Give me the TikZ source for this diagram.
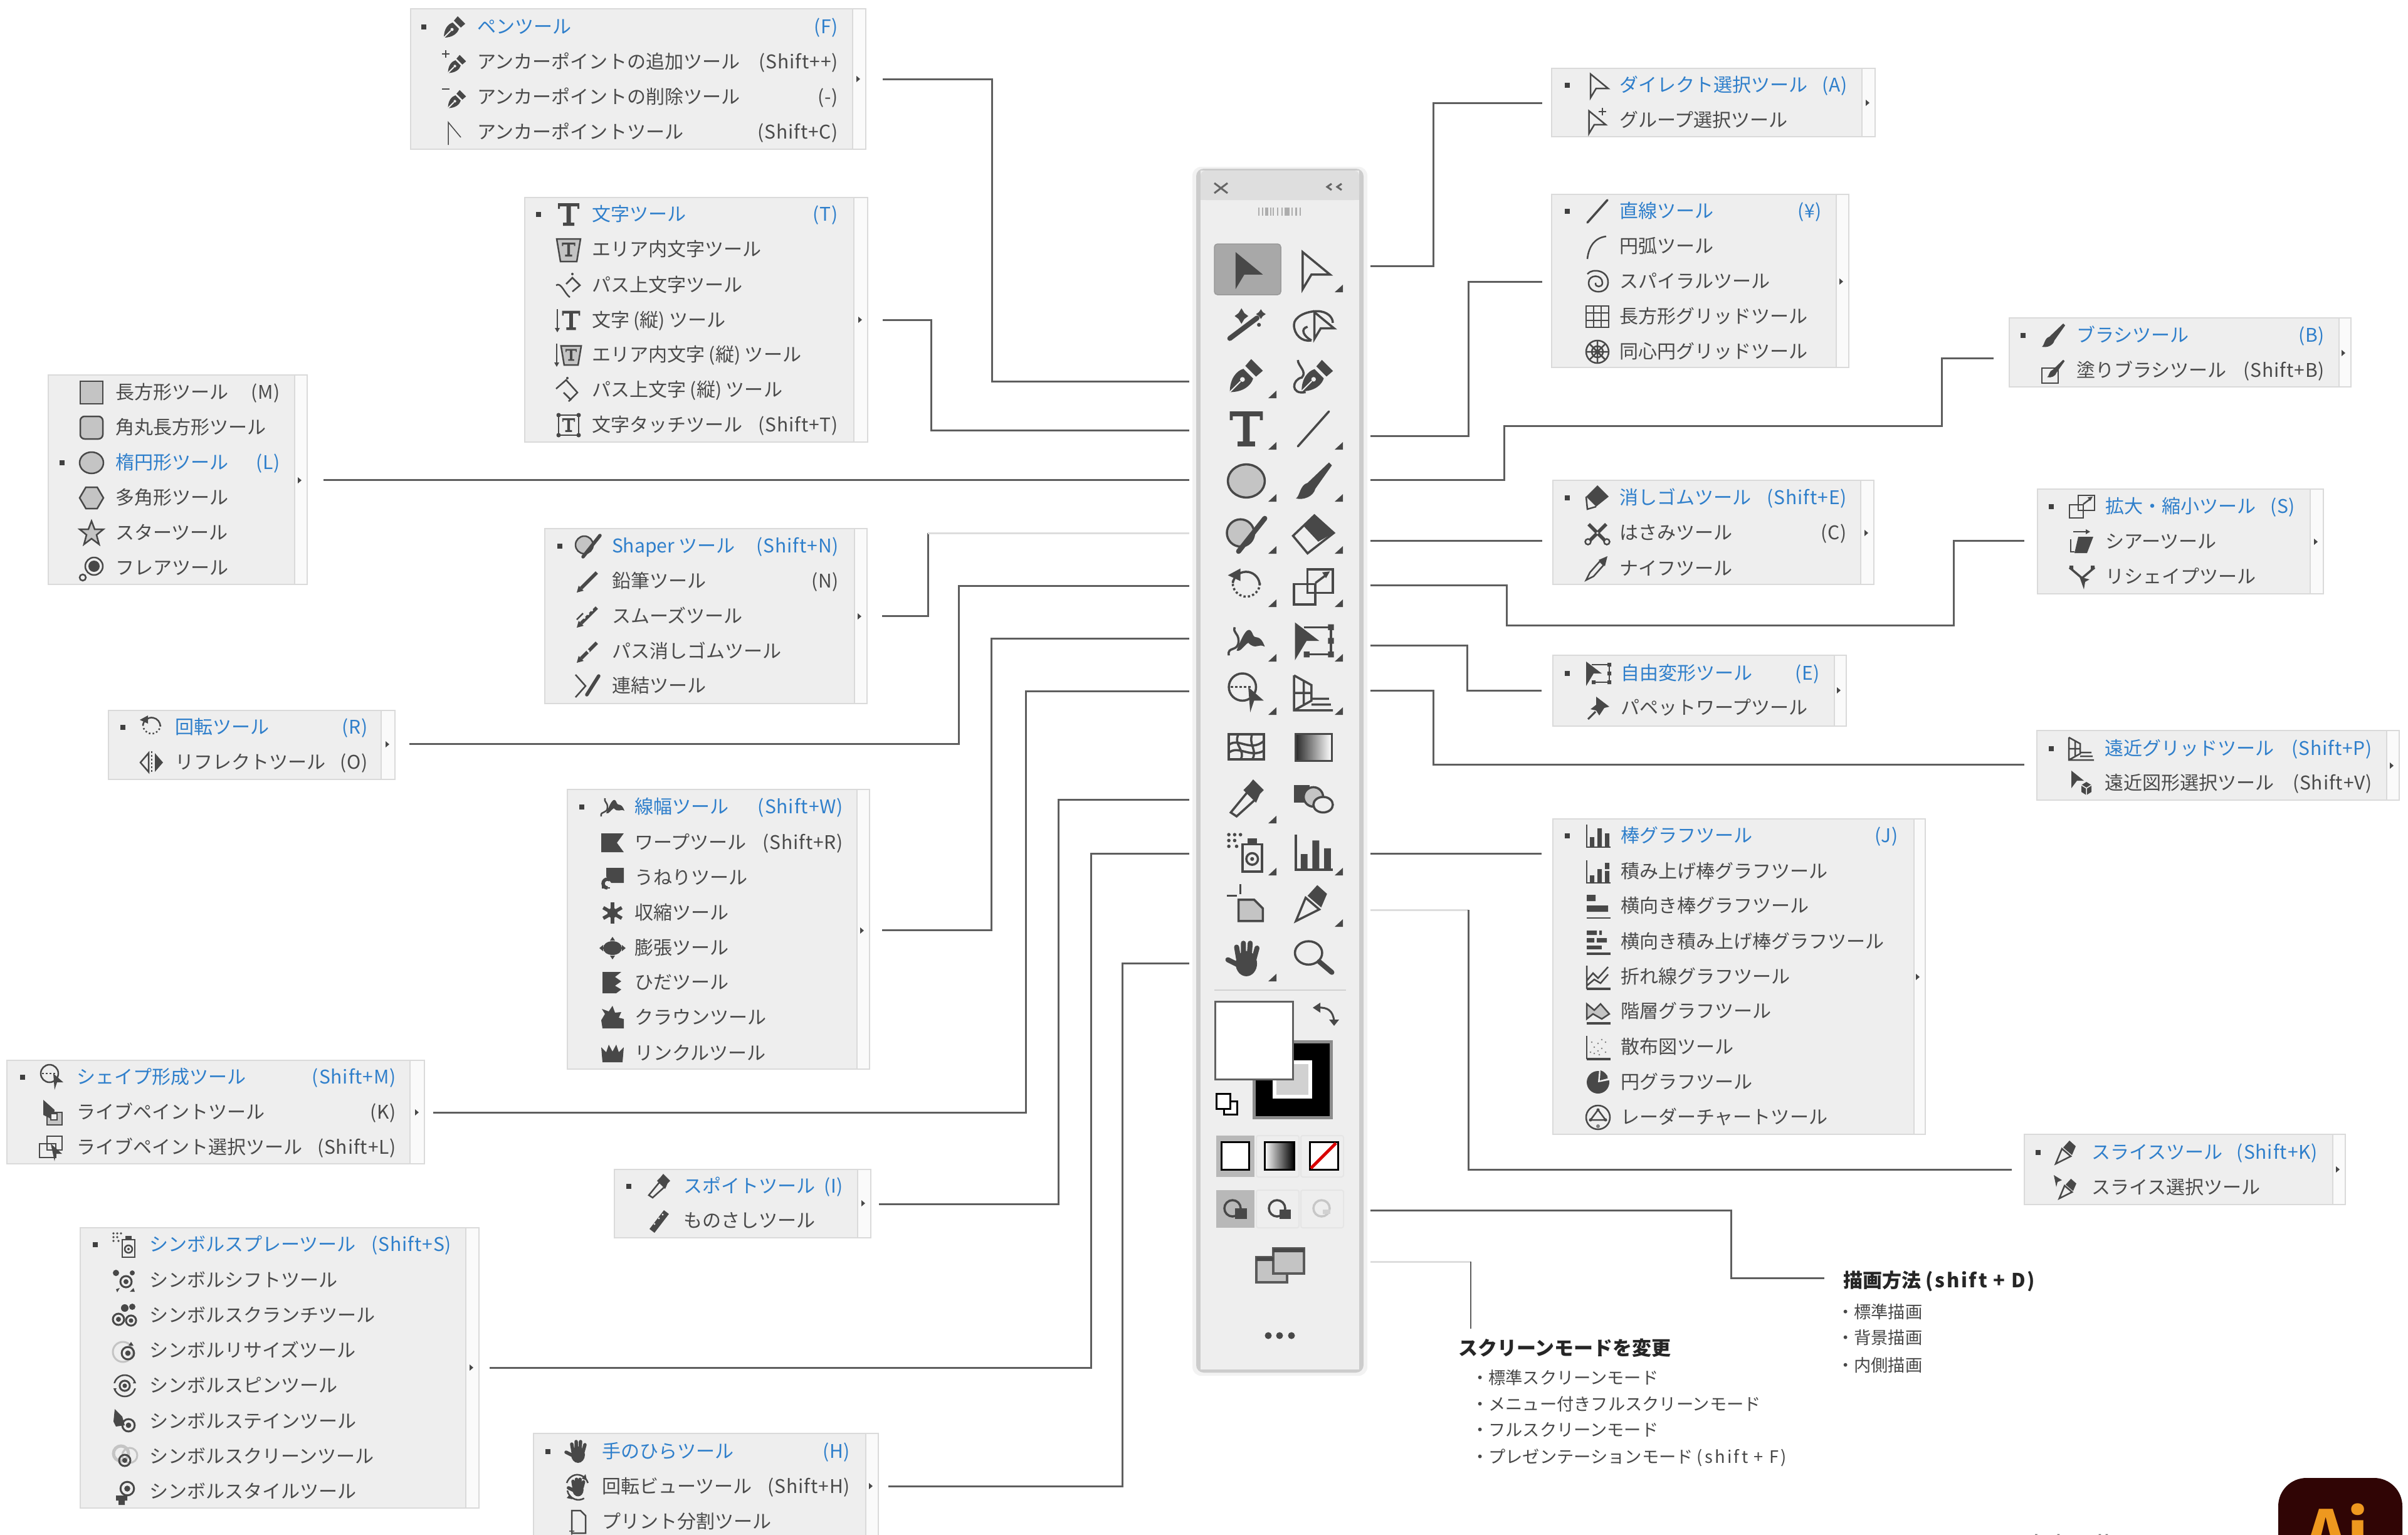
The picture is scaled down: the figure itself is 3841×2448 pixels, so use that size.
\documentclass[tikz,border=0pt]{standalone}
\usepackage{fontspec}
\setmainfont{Noto Sans CJK JP}
\usetikzlibrary{calc}
\definecolor{icd}{HTML}{484848}
\definecolor{icg}{HTML}{C4C4C4}
\definecolor{pbg}{HTML}{EEEEEE}
\definecolor{pbd}{HTML}{DADADA}
\definecolor{strip}{HTML}{FAFAFA}
\definecolor{txtc}{HTML}{4A4A4A}
\definecolor{blu}{HTML}{2F7FCB}
\definecolor{lnc}{HTML}{5E5E5E}
\definecolor{lnl}{HTML}{DDDDDD}
\definecolor{aicol}{HTML}{300505}
\definecolor{aior}{HTML}{EE981F}
\newcommand\ptfont{\fontsize{8.54pt}{10pt}\selectfont}
\newcommand\hdfont{\fontsize{8.82pt}{11pt}\selectfont\bfseries}
\newcommand\smfont{\fontsize{7.75pt}{10pt}\selectfont}
\def\icw{0.025cm}\def\ict{0.055cm}
\tikzset{
 icl/.style={draw=icd,line width=\icw},
 ict/.style={draw=icd,line width=\ict,line cap=round},
 pnl/.style={draw=pbd,line width=0.025cm,fill=pbg,inner sep=0,outer sep=0},
 ptxt/.style={inner sep=0,outer sep=0,font=\ptfont,text=txtc},
 phd/.style={ptxt,text=blu},
 conn/.style={draw=lnc,line width=0.03cm},
 connl/.style={draw=lnl,line width=0.03cm},
 nhd/.style={inner sep=0,outer sep=0,font=\hdfont,text=black!85,anchor=base west},
 nsm/.style={inner sep=0,outer sep=0,font=\smfont,text=black!72,anchor=base west},
}
\newcommand\sub[4]{\begin{scope}[shift={(#1,#2)},scale=#3]#4\end{scope}}
\newcommand\ico[4]{\begin{scope}[shift={(#1,#2)},scale=#3]#4\end{scope}}
% ---- icons
\newcommand\iPen{\fill[icd] (-17,17) .. controls (-17,3) and (-10,-5) .. (-3,-7) -- (7,3) .. controls (5,10) and (-3,17) .. (-17,17) -- cycle; \fill[icd] (-1,-10) -- (5,-17) -- (17,-5) -- (10,1) -- cycle; \draw[pbg,line width=.02cm] (-17,17) -- (-6,6); \fill[pbg] (-4,4) circle (2.5);}
\newcommand\iPenP{\sub{4}{3}{.85}{\iPen}\draw[icl] (-20,-13)--(-8,-13) (-14,-19)--(-14,-7);}
\newcommand\iPenM{\sub{4}{3}{.85}{\iPen}\draw[icl] (-20,-13)--(-8,-13);}
\newcommand\iAnchor{\draw[icl,line width=.015cm] (-10,20)--(-10,-16)--(10,8);}
\newcommand\iTg{\fill[icd] (-17,-18) rectangle (17,-13) (-3.5,-13) rectangle (3.5,14) (-9,13) rectangle (9,18) (-17,-18) rectangle (-14,-9) (14,-18) rectangle (17,-9);}
\newcommand\iAT{\draw[icl,fill=icg] (-19,-17) -- (19,-17) -- (13,19) -- (-13,19) -- cycle; \sub{0}{0}{.62}{\iTg}}
\newcommand\iPT{\draw[icl] (-20,0) .. controls (-12,-6) and (-6,14) .. (2,19); \draw[icl] (-4,-2)--(6,-12)--(18,0)--(6,10); \fill[icd] (6,-18) circle (2);}
\newcommand\iVT{\sub{4}{0}{.85}{\iTg}\draw[icl] (-18,-18)--(-18,16); \fill[icd] (-22,12)--(-14,12)--(-18,19)--cycle;}
\newcommand\iVAT{\sub{4}{0}{.85}{\iAT}\draw[icl] (-19,-18)--(-19,16); \fill[icd] (-23,12)--(-15,12)--(-19,19)--cycle;}
\newcommand\iVPT{\draw[icl] (-20,-2)--(-4,-16)--(14,4)--(0,18); \draw[icl] (-8,4)--(4,16); \fill[icd] (-2,-19) circle (2);}
\newcommand\iTT{\draw[icl] (-16,-16) rectangle (16,16); \foreach \a/\b in {-16/-16,16/-16,-16/16,16/16}{\fill[icd] (\a,\b) circle (3.5);} \sub{0}{0}{.6}{\iTg}}
\newcommand\iRc{\draw[icl,fill=icg] (-18,-18) rectangle (18,18);}
\newcommand\iRR{\draw[icl,fill=icg,rounded corners=.07cm] (-18,-18) rectangle (18,18);}
\newcommand\iEl{\draw[icl,fill=icg] (0,0) ellipse (19 and 17);}
\newcommand\iHex{\draw[icl,fill=icg] (-19,0)--(-9,-17)--(9,-17)--(19,0)--(9,17)--(-9,17)--cycle;}
\newcommand\iStr{\draw[icl,fill=icg] (0,-19)--(5,-6)--(19,-6)--(8,3)--(12,18)--(0,9)--(-12,18)--(-8,3)--(-19,-6)--(-5,-6)--cycle;}
\newcommand\iFl{\fill[icd] (4,-3) circle (9); \draw[icl] (4,-3) circle (14); \draw[icl,fill=pbg] (-14,15) circle (5);}
\newcommand\iShaper{\draw[icl,fill=icg] (-6,-2) circle (14); \draw[ict] (-8,17)--(19,-17);}
\newcommand\iPcl{\draw[icd,line width=\ict] (-11,11)--(14,-14); \fill[icd] (-18,18)--(-15,7)--(-7,15)--cycle;}
\newcommand\iSm{\iPcl\fill[pbg] (-6,2) circle (2) (0,-4) circle (2) (6,-10) circle (2);\draw[icl] (-18,5)--(-8,-5);}
\newcommand\iPE{\iPcl\draw[pbg,line width=.02cm] (-2,-2)--(5,5) (-6,-8)--(2,0);}
\newcommand\iJo{\draw[icl] (-20,-18)--(-4,0)--(-20,18); \draw[ict] (-2,14)--(17,-16);}
\newcommand\iRot{\draw[icl] (-14,-4) arc (190:360:14); \draw[icl,densely dotted] (14,-4) arc (0:190:14); \fill[icd] (-19,-12)--(-6,-19)--(-6,-6)--cycle;}
\newcommand\iRef{\draw[icl] (-5,-15)--(-18,0)--(-5,15)--cycle; \fill[icd] (5,-15)--(18,0)--(5,15)--cycle; \draw[icl,densely dotted] (0,-18)--(0,18);}
\newcommand\iWd{\draw[icl] (-18,15) .. controls (-20,5) and (-8,12) .. (-8,0) .. controls (-8,-8) and (-14,-8) .. (-12,-14); \fill[icd] (-10,10) .. controls (0,-16) and (4,-14) .. (7,-6) .. controls (9,-1) and (14,-8) .. (19,6) .. controls (12,2) and (10,10) .. (2,2) .. controls (-2,4) and (-6,12) .. (-10,10) -- cycle;}
\newcommand\iWp{\fill[icd] (-18,-15)--(18,-15)--(7,0)--(18,15)--(-18,15)--cycle;}
\newcommand\iTw{\fill[icd] (-10,-16)--(18,-16)--(18,8)--(-2,8)--(-10,-2)--cycle; \draw[icd,line width=\ict] (-8,16) arc (90:300:7) ;\draw[icl] (-16,8)--(-16,16)--(-4,16);}
\newcommand\iPk{\foreach \a in {0,60,...,300}{\draw[icd,line width=\ict,rotate=\a] (0,0)--(0,-17);}\fill[icd] (0,0) circle (8);\foreach \a in {30,150,210,330}{\fill[pbg,rotate=\a] (0,-16) circle (3);}}
\newcommand\iBl{\fill[icd] (0,0) ellipse (15 and 11); \fill[icd] (-21,0)--(-15,-5)--(-15,5)--cycle (21,0)--(15,-5)--(15,5)--cycle (0,-18)--(-4,-12)--(4,-12)--cycle (0,18)--(-4,12)--(4,12)--cycle;}
\newcommand\iSc{\fill[icd] (-16,-17)--(14,-17)--(4,-9)--(14,-2)--(4,5)--(14,11)--(6,17)--(-16,17)--cycle;}
\newcommand\iCr{\fill[icd] (-12,-6)--(-17,-14)--(-6,-10)--(0,-19)--(4,-8)--(14,-9)--(10,0)--(18,2)--(18,17)--(-16,17)--(-18,4)--cycle;}
\newcommand\iWr{\fill[icd] (-18,-10)--(-10,-2)--(-6,-14)--(0,-3)--(6,-14)--(10,-2)--(18,-10)--(16,14)--(-16,14)--cycle;}
\newcommand\iSB{\draw[icl] (-4,-6) circle (14); \draw[icl,densely dotted] (-16,-6)--(6,-6); \fill[icd] (2,-6)--(18,8)--(8,8)--(4,20)--cycle;}
\newcommand\iLP{\draw[icl,fill=icg] (-8,0) rectangle (16,20); \fill[icd] (-14,-20)--(4,-4)--(2,12)--(-14,4)--cycle;\draw[icl,fill=pbg] (-2,2) rectangle (8,12);}
\newcommand\iLS{\draw[icl] (-20,-6) rectangle (6,16); \draw[icl] (-8,-18) rectangle (16,4); \fill[icd] (-2,-6)--(16,10)--(6,10)--(4,22)--cycle;}
\newcommand\iDr{\draw[icl,fill=pbg] (-16,14)--(2,-8)--(10,0)--(-10,18)--cycle; \fill[icd] (-3,-9)--(3,-15)--(7,-20)--(18,-9)--(14,-5)--(10,4)--cycle;}
\newcommand\iRu{\draw[icd,line width=.10cm] (-11,16)--(12,-14); \fill[pbg] (-7,5) circle (1.6) (0,-4) circle (1.6) (6,-10) circle (1.6);}
\newcommand\iSpr{\draw[icl,fill=pbg] (-4,-8) rectangle (16,20); \fill[icd] (1,-14) rectangle (11,-8); \draw[icl] (6,7) circle (6); \fill[icd] (6,7) circle (2); \foreach \a/\b in {-18/-18,-12/-18,-6/-18,-18/-12,-12/-12,-18/-6,-10/-6}{\fill[icd] (\a,\b) circle (1.8);}}
\newcommand\iRg{\draw[icl,line width=.03cm] (0,0) circle (9); \fill[icd] (0,0) circle (4);}
\newcommand\iSh{\sub{2}{2}{1}{\iRg}\fill[icd] (-14,-12) circle (5) (12,-12) circle (4) (-14,14)--(-8,12)--(-12,19)--cycle (14,12)--(8,18)--(16,18)--cycle;}
\newcommand\iCh{\sub{-10}{6}{1}{\iRg}\sub{10}{8}{.9}{\iRg}\fill[icd] (0,-12) circle (6) (12,-14) circle (5);}
\newcommand\iSz{\draw[icg,line width=.03cm] (-3,2) circle (16); \sub{5}{4}{1.1}{\iRg}\fill[icd] (10,-14)--(6,-8)--(14,-8)--cycle;}
\newcommand\iSp{\draw[icl] (0,0) circle (17); \sub{0}{0}{.9}{\iRg}\fill[pbg] (-19,-4) rectangle (-14,4) (14,-4) rectangle (19,4); \fill[icd] (-18,4)--(-13,4)--(-16,9)--cycle (18,-4)--(13,-4)--(16,-9)--cycle;}
\newcommand\iSt{\fill[icd] (-16,-20)--(-4,-8)--(0,6)--(-14,8)--(-18,0)--cycle; \sub{6}{6}{1.1}{\iRg}}
\newcommand\iScr{\draw[icg,line width=.05cm,fill=pbg] (-6,-5) circle (12); \draw[icg,line width=.03cm] (8,-2) circle (12); \sub{0}{6}{1}{\iRg}}
\newcommand\iSty{\sub{4}{-5}{1.2}{\iRg}\fill[icd] (-14,6) rectangle (4,14) (-10,14) rectangle (0,21);}
\newcommand\iHd{\fill[icd] (0,5) ellipse (11 and 13); \draw[ict] (-8,0)--(-10,-12) (-3,-2)--(-3,-16) (3,-2)--(4,-16) (8,0)--(11,-11) (-9,6)--(-19,1);}
\newcommand\iRV{\sub{0}{1}{.8}{\iHd}\draw[icl] (-18,-6) arc (200:340:18 and 20) ; \draw[icl] (-17,6) arc (170:60:18); \fill[icd] (12,-20)--(6,-13)--(14,-10)--cycle (-18,18)--(-13,12)--(-9,20)--cycle;}
\newcommand\iTl{\draw[icl] (-10,-18)--(4,-18)--(12,-10)--(12,18)--(-10,18)--cycle; \fill[icd] (-14,14) rectangle (-6,15.5) (-10.7,10) rectangle (-9.3,21);}
\newcommand\iArw{\fill[icd] (-11,-18)--(17,5)--(-2,5)--(-11,20)--cycle;}
\newcommand\iDir{\draw[icl,fill=pbg] (-11,-18)--(17,5)--(-2,5)--(-11,20)--cycle;}
\newcommand\iGp{\sub{-3}{2}{.95}{\iDir}\draw[icl] (8,-20)--(8,-8) (2,-14)--(14,-14);}
\newcommand\iLn{\draw[icd,line width=.035cm,line cap=round] (-16,18)--(16,-18);}
\newcommand\iAr{\draw[icl] (-16,20) .. controls (-14,0) and (-4,-14) .. (14,-16);}
\newcommand\iSpi{\draw[icl] (-16,-12) .. controls (-8,-22) and (18,-18) .. (17,2) .. controls (16,22) and (-14,20) .. (-14,2) .. controls (-14,-12) and (8,-12) .. (8,2) .. controls (8,10) and (-4,10) .. (-3,2);}
\newcommand\iGr{\draw[icl] (-18,-17) rectangle (18,17) (-18,-6)--(18,-6) (-18,6)--(18,6) (-6,-17)--(-6,17) (6,-17)--(6,17);}
\newcommand\iPo{\draw[icl] (0,0) circle (18); \draw[icl] (0,0) circle (9) (-18,0)--(18,0) (0,-18)--(0,18) (-13,-13)--(13,13) (-13,13)--(13,-13);}
\newcommand\iBr{\fill[icd] (-18,18) .. controls (-14,16) and (-14,4) .. (-6,2) -- (16,-19) -- (19,-16) -- (2,8) .. controls (0,16) and (-10,20) .. (-18,18) -- cycle;}
\newcommand\iBb{\draw[icl,fill=pbg] (-18,-4) rectangle (8,20); \sub{4}{-3}{.75}{\iBr}}
\newcommand\iEr{\draw[icl,fill=pbg] (-21,1)--(1,-20)--(21,-2)--(-6,19)--cycle; \fill[icd] (-10,-9)--(1,-20)--(21,-2)--(5,7)--cycle;}
\newcommand\iErB{\fill[icd] (0,-20)--(18,-2)--(-2,14)--(-18,-2)--cycle; \draw[icl] (-18,-2)--(-16,18)--(-2,14);}
\newcommand\iSci{\draw[icd,line width=\ict] (-14,-14)--(14,14) (14,-14)--(-14,14); \fill[pbg] (0,0) circle (1.8); \draw[icl,fill=pbg] (-15,14) circle (4.5) (15,14) circle (4.5);}
\newcommand\iKn{\draw[icl,fill=pbg] (-18,18)--(-12,6)--(4,-12)--(10,-6)--(-6,12)--cycle; \fill[icd] (2,-14)--(16,-20)--(12,-4)--cycle;}
\newcommand\iSca{\draw[icl] (-20,-3) rectangle (2,18); \draw[icl] (-6,-18) rectangle (20,6); \draw[icl] (2,-4)--(14,-13); \fill[icd] (9,-15)--(17,-16)--(13,-9)--cycle;}
\newcommand\iShr{\fill[icd] (-12,18)--(-6,-8)--(18,-8)--(8,18)--cycle; \draw[icl] (-18,-4)--(-18,16)--(-12,16);\draw[icl] (-14,-16)--(6,-16);\fill[icd] (6,-20)--(13,-16)--(6,-12)--cycle;}
\newcommand\iRsh{\draw[icl,line width=.035cm] (-20,-15) -- (0,2) -- (20,-15); \fill[icd] (-4,0)--(12,4)--(5,8)--(3,20)--cycle; \fill[icd] (-20,-18) rectangle (-14,-12) (14,-18) rectangle (20,-12);}
\newcommand\iFr{\fill[icd] (-19,-19)--(6,0)--(-7,0)--(-19,20)--cycle; \draw[icl] (-10,-14)--(18,-14)--(18,14)--(-8,14); \fill[icd] (15,-17) rectangle (21,-11) (15,11) rectangle (21,17) (-10,11) rectangle (-4,17) (15,-3) rectangle (21,3);}
\newcommand\iPup{\fill[icd] (-3,-18)--(18,-2)--(10,0)--(2,12)--(-3,4)--(-12,2)--(-3,-5)--cycle; \draw[icl,line width=.03cm] (-4,6)--(-16,18);}
\newcommand\iPer{\draw[icl] (-20,-18)--(-20,18)--(20,18) (-20,-18)--(-2,-8)--(-2,8)--(-20,18) (-20,0)--(-2,0) (-10,-12)--(-10,13) (-2,6)--(16,6) (-2,12)--(18,12);}
\newcommand\iPS{\fill[icd] (-16,-20)--(4,-4)--(-7,-4)--(-16,8)--cycle; \fill[icd] (8,-2)--(16,3)--(16,14)--(8,19)--(0,14)--(0,3)--cycle;\draw[pbg,line width=.015cm] (0,3)--(8,8)--(16,3) (8,8)--(8,19);}
\newcommand\iBa{\draw[icl] (-18,-18)--(-18,18)--(20,18); \fill[icd] (-13,2) rectangle (-6,18) (-1,-12) rectangle (6,18) (11,-4) rectangle (18,18);}
\newcommand\iSk{\draw[icl] (-18,-18)--(-18,18)--(20,18); \fill[icd] (-13,6) rectangle (-6,18) (-1,-4) rectangle (6,18) (11,-14) rectangle (18,-4) (11,-1) rectangle (18,18);}
\newcommand\iHB{\draw[icl] (-18,19)--(20,19); \fill[icd] (-18,-18) rectangle (-4,-8) (-18,-1) rectangle (16,9);}
\newcommand\iHS{\draw[icl,line width=.04cm] (-18,19)--(20,19); \fill[icd] (-18,-18) rectangle (-2,-11) (2,-18) rectangle (6,-11) (-18,-6) rectangle (-6,1) (-2,-6) rectangle (14,1) ;\fill[icd] (-18,6) rectangle (6,12);}
\newcommand\iLG{\draw[icl,line width=.04cm] (-18,19)--(20,19); \draw[icl] (-18,-18)--(-18,19) (-18,6)--(-8,-6)--(0,2)--(16,-16) (-18,14)--(-6,4)--(4,10)--(16,-4);}
\newcommand\iAG{\draw[icl,line width=.04cm] (-18,19)--(20,19); \draw[icl,fill=icg] (-18,-12)--(-6,-2)--(4,-12)--(18,4)--(6,12)--(-8,4)--(-18,12)--cycle;}
\newcommand\iScg{\draw[icl,line width=.04cm] (-18,19)--(20,19); \draw[icl] (-18,-18)--(-18,19); \foreach \a/\b in {-12/8,-6/0,-6/10,0/-6,0/6,6/-12,6/2,12/-8,12/8,-10/-8,2/12}{\fill[icd!70] (\a,\b) circle (1.4);}}
\newcommand\iPi{\fill[icd] (0,0) circle (18); \fill[pbg] (0,0)--(2,-21)--(21,-4)--cycle; \fill[icd] (3,-3)--(4,-19) arc (-75:-10:16) --cycle;}
\newcommand\iRa{\draw[icl] (0,0) circle (19); \draw[icl] (0,-12)--(12,4)--(-12,4)--cycle; \fill[icd] (0,-12) circle (2.5) (12,4) circle (2.5) (-12,4) circle (2.5);\fill[icd!70] (0,14) circle (3);}
\newcommand\iSl{\draw[icl,fill=pbg] (-18,18)--(-8,-6)--(6,6)--cycle; \fill[icd] (-6,-8)--(4,-19)--(14,-10)--(8,4)--cycle;}
\newcommand\iSS{\sub{3}{2}{.85}{\iSl}\fill[icd] (-21,-20)--(-8,-12)--(-15,-9)--(-17,-1)--cycle;}
\newcommand\iWand{\draw[ict] (-17,14)--(11,-7); \fill[icd] (-8,-12)--(-5,-17)--(-2,-12)--(2,-9)--(-2,-6)--(-5,-1)--(-8,-6)--(-12,-9)--cycle; \fill[icd] (13,-13)--(15,-16)--(17,-13)--(20,-11)--(17,-9)--(15,-6)--(13,-9)--(10,-11)--cycle (13,0) circle (2);}
\newcommand\iLas{\draw[icl] (-2,16) .. controls (-12,18) and (-20,10) .. (-20,0) .. controls (-20,-8) and (-8,-14) .. (4,-14) .. controls (14,-14) and (20,-8) .. (20,-2); \draw[icl] (-2,16) .. controls (-10,12) and (-14,4) .. (-6,2); \sub{9}{0}{.72}{\iDir}}
\newcommand\iCurv{\sub{4}{0}{.95}{\iPen}\draw[icl] (-8,17) .. controls (-24,20) and (-22,4) .. (-12,2) .. controls (-6,-4) and (-16,-10) .. (-16,-16);}
\newcommand\iMesh{\draw[icl] (-18,-13) rectangle (18,13); \draw[icl] (-18,-2) .. controls (-8,-10) and (4,6) .. (18,-6) (-18,6) .. controls (-8,-2) and (4,12) .. (18,4) (-8,-13) .. controls (-14,-2) and (0,4) .. (-6,13) (6,-13) .. controls (2,-2) and (12,4) .. (6,13);}
\newcommand\iBlend{\fill[icd] (-20,-14) rectangle (-4,4); \fill[icg,draw=icd,line width=\icw] (0,-2) circle (10); \draw[icl,fill=pbg] (10,6) ellipse (10 and 8);}
\newcommand\iArtb{\draw[icl,fill=icg] (-8,-4)--(8,-4)--(17,5)--(17,18)--(-8,18)--cycle; \draw[icl] (-20,-8)--(-10,-8) (-6,-20)--(-6,-10);}
\newcommand\iZm{\draw[icl] (-5,-6) ellipse (14 and 12); \draw[ict] (6,3)--(19,14);}
% ---- panels
\newcommand\Pnl[7]{%
 \node[pnl,anchor=north west,minimum width={(#4-#2)*0.01cm},minimum height={(#5-#3)*0.01cm}] (#1) at (#2,#3) {};
 \fill[strip] (#6,#3+1) rectangle (#4-1,#5-1);
 \draw[pbd,line width=.012cm] (#6,#3+1)--(#6,#5-1);
 \fill[icd] (#4-15,#7-5)--(#4-9,#7)--(#4-15,#7+5)--cycle;
}
\newcommand\Col[4]{\def\bx{#1}\def\ix{#2}\def\tx{#3}\def\kx{#4}}
\newcount\rowc
\newcommand\Rw[5][ptxt]{%
 \global\advance\rowc by 1
 \ico{\ix}{#2}{1}{#3}
 \node[#1,anchor=base west] (rt\the\rowc) at (\tx,#2+10.5) {#4};
 \if\relax\detokenize{#5}\relax\else
 \node[#1,anchor=base east] (rk\the\rowc) at (\kx,#2+10.5) {\addfontfeature{LetterSpace=3}#5};\fi
}
\newcommand\Hd[4]{\fill[black!75] (\bx-4,#1-4) rectangle (\bx+4,#1+4); \Rw[phd]{#1}{#2}{#3}{#4}}
\newcommand\conn[3]{\coordinate (xb) at (#2,0); \draw[conn] (#1) -- (#1 -| xb) -- (#3 -| xb) -- (#3);}
\newcommand\tri[2]{\fill[icd] (#1+6,#2-6)--(#1+6,#2+6)--(#1-7,#2+6)--cycle;}
\begin{document}
\begin{tikzpicture}[x=0.01cm,y=-0.01cm]
\useasboundingbox (0,0) rectangle (3841,2448);
\fill[white] (0,0) rectangle (3841,2448);
% Panels ---------------------------------------------------
\Pnl{pen}{655}{14}{1381}{238}{1360}{126}
\Col{676}{725}{761}{1337}
\Hd{43}{\iPen}{ペンツール}{(F)}
\Rw{99}{\iPenP}{アンカーポイントの追加ツール}{(Shift++)}
\Rw{155}{\iPenM}{アンカーポイントの削除ツール}{(-)}
\Rw{211}{\iAnchor}{アンカーポイントツール}{(Shift+C)}

\Pnl{typ}{837}{315}{1384}{705}{1362}{510}
\Col{859}{907}{944}{1337}
\Hd{342}{\iTg}{文字ツール}{(T)}
\Rw{398}{\iAT}{エリア内文字ツール}{}
\Rw{455}{\iPT}{パス上文字ツール}{}
\Rw{511}{\iVT}{文字 (縦) ツール}{}
\Rw{566}{\iVAT}{エリア内文字 (縦) ツール}{}
\Rw{622}{\iVPT}{パス上文字 (縦) ツール}{}
\Rw{678}{\iTT}{文字タッチツール}{(Shift+T)}

\Pnl{rct}{77}{598}{490}{932}{470}{766}
\Col{99}{146}{184}{447}
\Rw{626}{\iRc}{長方形ツール}{(M)}
\Rw{682}{\iRR}{角丸長方形ツール}{}
\Hd{738}{\iEl}{楕円形ツール}{(L)}
\Rw{794}{\iHex}{多角形ツール}{}
\Rw{850}{\iStr}{スターツール}{}
\Rw{906}{\iFl}{フレアツール}{}

\Pnl{shp}{869}{843}{1383}{1122}{1363}{983}
\Col{893}{938}{976}{1338}
\Hd{871}{\iShaper}{Shaper ツール}{(Shift+N)}
\Rw{927}{\iPcl}{鉛筆ツール}{(N)}
\Rw{983}{\iSm}{スムーズツール}{}
\Rw{1039}{\iPE}{パス消しゴムツール}{}
\Rw{1094}{\iJo}{連結ツール}{}

\Pnl{rot}{173}{1133}{630}{1243}{608}{1187}
\Col{196}{242}{279}{587}
\Hd{1160}{\iRot}{回転ツール}{(R)}
\Rw{1216}{\iRef}{リフレクトツール}{(O)}

\Pnl{wid}{905}{1259}{1387}{1705}{1367}{1484}
\Col{928}{977}{1012}{1345}
\Hd{1287}{\iWd}{線幅ツール}{(Shift+W)}
\Rw{1344}{\iWp}{ワープツール}{(Shift+R)}
\Rw{1400}{\iTw}{うねりツール}{}
\Rw{1456}{\iPk}{収縮ツール}{}
\Rw{1512}{\iBl}{膨張ツール}{}
\Rw{1567}{\iSc}{ひだツール}{}
\Rw{1623}{\iCr}{クラウンツール}{}
\Rw{1680}{\iWr}{リンクルツール}{}

\Pnl{sbt}{11}{1691}{677}{1856}{654}{1774}
\Col{36}{83}{122}{632}
\Hd{1718}{\iSB}{シェイプ形成ツール}{(Shift+M)}
\Rw{1774}{\iLP}{ライブペイントツール}{(K)}
\Rw{1830}{\iLS}{ライブペイント選択ツール}{(Shift+L)}

\Pnl{drp}{980}{1865}{1389}{1974}{1368}{1919}
\Col{1003}{1051}{1090}{1345}
\Hd{1892}{\iDr}{スポイトツール}{(I)}
\Rw{1947}{\iRu}{ものさしツール}{}

\Pnl{sym}{128}{1958}{764}{2405}{743}{2181}
\Col{152}{199}{238}{720}
\Hd{1985}{\iSpr}{シンボルスプレーツール}{(Shift+S)}
\Rw{2042}{\iSh}{シンボルシフトツール}{}
\Rw{2098}{\iCh}{シンボルスクランチツール}{}
\Rw{2154}{\iSz}{シンボルリサイズツール}{}
\Rw{2210}{\iSp}{シンボルスピンツール}{}
\Rw{2267}{\iSt}{シンボルステインツール}{}
\Rw{2323}{\iScr}{シンボルスクリーンツール}{}
\Rw{2379}{\iSty}{シンボルスタイルツール}{}

\Pnl{hnd}{851}{2286}{1401}{2470}{1381}{2370}
\Col{874}{922}{960}{1356}
\Hd{2315}{\iHd}{手のひらツール}{(H)}
\Rw{2371}{\iRV}{回転ビューツール}{(Shift+H)}
\Rw{2427}{\iTl}{プリント分割ツール}{}

\Pnl{dir}{2475}{109}{2991}{218}{2970}{164}
\Col{2500}{2548}{2583}{2947}
\Hd{136}{\iDir}{ダイレクト選択ツール}{(A)}
\Rw{192}{\iGp}{グループ選択ツール}{}

\Pnl{lin}{2475}{310}{2949}{586}{2929}{449}
\Col{2500}{2548}{2583}{2906}
\Hd{337}{\iLn}{直線ツール}{(¥)}
\Rw{393}{\iAr}{円弧ツール}{}
\Rw{449}{\iSpi}{スパイラルツール}{}
\Rw{505}{\iGr}{長方形グリッドツール}{}
\Rw{561}{\iPo}{同心円グリッドツール}{}

\Pnl{bru}{3205}{507}{3750}{617}{3731}{563}
\Col{3227}{3275}{3312}{3708}
\Hd{535}{\iBr}{ブラシツール}{(B)}
\Rw{591}{\iBb}{塗りブラシツール}{(Shift+B)}

\Pnl{era}{2477}{766}{2989}{932}{2968}{850}
\Col{2500}{2548}{2583}{2946}
\Hd{794}{\iErB}{消しゴムツール}{(Shift+E)}
\Rw{850}{\iSci}{はさみツール}{(C)}
\Rw{907}{\iKn}{ナイフツール}{}

\Pnl{sca}{3250}{780}{3706}{947}{3685}{864}
\Col{3272}{3321}{3358}{3661}
\Hd{808}{\iSca}{拡大・縮小ツール}{(S)}
\Rw{864}{\iShr}{シアーツール}{}
\Rw{920}{\iRsh}{リシェイプツール}{}

\Pnl{fre}{2477}{1045}{2945}{1158}{2926}{1101}
\Col{2500}{2549}{2585}{2903}
\Hd{1074}{\iFr}{自由変形ツール}{(E)}
\Rw{1129}{\iPup}{パペットワープツール}{}

\Pnl{per}{3249}{1165}{3827}{1276}{3807}{1221}
\Col{3272}{3320}{3357}{3784}
\Hd{1194}{\iPer}{遠近グリッドツール}{(Shift+P)}
\Rw{1249}{\iPS}{遠近図形選択ツール}{(Shift+V)}

\Pnl{bar}{2477}{1306}{3071}{1809}{3053}{1558}
\Col{2500}{2549}{2585}{3028}
\Hd{1333}{\iBa}{棒グラフツール}{(J)}
\Rw{1390}{\iSk}{積み上げ棒グラフツール}{}
\Rw{1445}{\iHB}{横向き棒グラフツール}{}
\Rw{1502}{\iHS}{横向き積み上げ棒グラフツール}{}
\Rw{1558}{\iLG}{折れ線グラフツール}{}
\Rw{1613}{\iAG}{階層グラフツール}{}
\Rw{1670}{\iScg}{散布図ツール}{}
\Rw{1726}{\iPi}{円グラフツール}{}
\Rw{1782}{\iRa}{レーダーチャートツール}{}

\Pnl{sli}{3229}{1809}{3741}{1921}{3721}{1865}
\Col{3251}{3297}{3336}{3697}
\Hd{1838}{\iSl}{スライスツール}{(Shift+K)}
\Rw{1894}{\iSS}{スライス選択ツール}{}

% Toolbar ---------------------------------------------------
\fill[black!5,rounded corners=.14cm] (1902,266) rectangle (2181,2194);
\fill[black!20,rounded corners=.12cm] (1908,269) rectangle (2175,2189);
\node[fill=pbg,inner sep=0,outer sep=0,anchor=north west,minimum width=2.53cm,minimum height=19.11cm] (toolbar) at (1915,272) {};
\fill[black!13,rounded corners=.08cm] (1915,272) rectangle (2168,319);
\fill[black!13] (1915,300) rectangle (2168,319);
\draw[black!60,line width=.03cm] (1937,292)--(1958,308) (1958,292)--(1937,308);
\draw[black!60,line width=.03cm] (2124,293)--(2117,298)--(2124,303) (2140,293)--(2133,298)--(2140,303);
\foreach \a/\w in {2007/2,2013/2,2018/5,2026/2,2030/2,2037/2,2044/2,2049/8,2060/2,2066/3,2073/2}{\fill[black!32] (\a,331) rectangle (\a+\w,344);}
\fill[black!34,draw=black!40,line width=.015cm,rounded corners=.05cm] (1937,389) rectangle (2043,470);
\def\icw{0.035cm}\def\ict{0.08cm}
\foreach \c/\r/\ic in {
 1988/430/\iArw, 2095/430/\iDir,
 1988/518/\iWand, 2095/518/\iLas,
 1988/599/\iPen, 2095/599/\iCurv,
 1988/684/\iTg, 2095/684/\iLn,
 1988/767/\iEl, 2095/767/\iBr,
 1988/853/\iShaper, 2095/853/\iEr,
 1988/936/\iRot, 2095/936/\iSca,
 1988/1022/\iWd, 2095/1022/\iFr,
 1988/1105/\iSB, 2095/1105/\iPer,
 1988/1191/\iMesh,
 1988/1274/\iDr, 2095/1274/\iBlend,
 1988/1359/\iSpr, 2095/1359/\iBa,
 1988/1441/\iArtb, 2095/1441/\iSl,
 1988/1529/\iHd, 2095/1529/\iZm}{\ico{\c}{\r}{1.55}{\ic}}
\def\icw{0.025cm}\def\ict{0.055cm}
\shade[left color=black!85,right color=white,draw=icd,line width=.03cm] (2066,1170) rectangle (2124,1213);
\foreach \r in {629,711,794,877,962,1049,1134,1307,1390,1559}{\tri{2030}{\r}}
\foreach \r in {460,711,794,877,962,1049,1134,1390,1472}{\tri{2136}{\r}}
\draw[black!18,line width=.015cm] (1937,1579)--(2147,1579);
% fill/stroke
\fill[black!45] (1998,1659) rectangle (2126,1785);
\fill[black] (2003,1664) rectangle (2121,1780);
\fill[white] (2030,1691) rectangle (2093,1752);
\fill[black!18] (2036,1697) rectangle (2087,1746);
\fill[white,draw=black!62,line width=.03cm] (1938,1597) rectangle (2062,1721);
\draw[black,line width=.03cm,fill=white] (1952,1756) rectangle (1973,1777);
\draw[black,line width=.03cm,fill=white] (1940,1744) rectangle (1962,1768);
\draw[icd,line width=.03cm] (2102,1607) .. controls (2118,1606) and (2126,1612) .. (2128,1628);
\fill[icd] (2094,1607)--(2106,1599)--(2106,1615)--cycle (2120,1626)--(2136,1626)--(2128,1636)--cycle;
% colour buttons
\fill[black!28] (1940,1811) rectangle (2001,1877);
\draw[black!10,line width=.02cm,rounded corners=.03cm] (2004,1811) rectangle (2072,1877) (2075,1811) rectangle (2143,1877);
\draw[black,line width=.03cm,fill=white] (1948,1821) rectangle (1992,1865);
\shade[left color=white,right color=black,draw=black,line width=.03cm] (2017,1821) rectangle (2064,1865);
\draw[black,line width=.03cm,fill=white] (2089,1821) rectangle (2134,1865);
\draw[red!85!black,line width=.05cm] (2091,1863)--(2131,1823);
% draw modes
\fill[black!28] (1940,1898) rectangle (2001,1958);
\draw[black!10,line width=.02cm,rounded corners=.03cm] (2004,1898) rectangle (2072,1958) (2075,1898) rectangle (2143,1958);
\draw[icd,line width=.035cm,fill=black!28] (1966,1927) circle (13);
\fill[icd] (1970,1927) rectangle (1989,1944);
\draw[icd,line width=.035cm,fill=pbg] (2037,1927) circle (13);
\fill[icd] (2041,1929) rectangle (2059,1944);
\draw[black!22,line width=.035cm,fill=pbg] (2108,1927) circle (13);
\fill[black!18] (2110,1929) rectangle (2122,1936);
% screen mode, dots
\draw[icd!90,line width=.035cm,fill=icg] (2004,2005) rectangle (2053,2045);
\draw[icd!90,line width=.035cm,fill=icg] (2031,1991) rectangle (2080,2031);
\fill[icd] (2031,1991) rectangle (2080,1997) (2004,2005) rectangle (2031,2011);
\fill[icd] (2023,2130) circle (5.5) (2041,2130) circle (5.5) (2060,2130) circle (5.5);
% ports and connectors --------------------------------------
\foreach \n/\yy in {Pen/608,Typ/686,Ell/765,Sha/850,Rot/934,Wid/1018,Sbt/1102,Drp/1275,Sym/1361,Hnd/1536}{\coordinate (tl\n) at (1897,\yy);}
\foreach \n/\yy in {Dir/424,Lin/695,Bru/765,Era/862,Sca/933,Fre/1029,Per/1101,Bar/1361,Sli/1451,Drw/1930,Scr/2012}{\coordinate (tr\n) at (2186,\yy);}
\foreach \n/\xx/\yy in {Pen/1408/126,Typ/1408/510,Ell/516/765,Sha/1407/982,Rot/653/1186,Wid/1407/1483,Sbt/691/1774,Drp/1402/1920,Sym/781/2181,Hnd/1417/2370,
 Dir/2460/164,Lin/2460/449,Bru/3180/571,Era/2460/862,Sca/3229/862,Fre/2459/1101,Per/3229/1219,Bar/2459/1361,Sli/3209/1865,Drw/2910/2038,Scr/2346/2119}{\coordinate (c\n) at (\xx,\yy);}
\conn{cPen}{1582}{tlPen}
\conn{cTyp}{1485}{tlTyp}
\draw[conn] (cEll) -- (tlEll);
\coordinate (sh1) at (1480,982);\coordinate (sh2) at (1480,850);
\draw[conn] (cSha) -- (sh1) -- (sh2);
\draw[connl] (sh2) -- (tlSha);
\conn{cRot}{1529}{tlRot}
\conn{cWid}{1581}{tlWid}
\conn{cSbt}{1636}{tlSbt}
\conn{cDrp}{1688}{tlDrp}
\conn{cSym}{1740}{tlSym}
\conn{cHnd}{1790}{tlHnd}
\conn{trDir}{2286}{cDir}
\conn{trLin}{2342}{cLin}
\coordinate (b1) at (2399,679);\coordinate (b2) at (3097,571);
\draw[conn] (trBru) -| (b1) -| (b2) -- (cBru);
\draw[conn] (trEra) -- (cEra);
\coordinate (s1) at (2403,997);\coordinate (s2) at (3116,862);
\draw[conn] (trSca) -| (s1) -| (s2) -- (cSca);
\conn{trFre}{2340}{cFre}
\conn{trPer}{2286}{cPer}
\draw[conn] (trBar) -- (cBar);
\coordinate (l1) at (2342,1451);\coordinate (l2) at (2342,1865);
\draw[connl] (trSli) -- (l1);
\draw[conn] (l1) -- (l2) -- (cSli);
\coordinate (d1) at (2761,1930);\coordinate (d2) at (2761,2038);
\draw[conn] (trDrw) -- (d1) -- (d2) -- (cDrw);
\coordinate (m1) at (2346,2012);
\draw[connl] (trScr) -- (m1);
\draw[conn,line width=.02cm] (m1) -- (cScr);
% free text ---------------------------------------------------
\node[nhd] (drawh) at (2940,2053) {描画方法\ {\addfontfeature{LetterSpace=9}(shift + D)}};
\node[nsm] (draw1) at (2930,2102) {・標準描画};
\node[nsm] (draw2) at (2930,2143) {・背景描画};
\node[nsm] (draw3) at (2930,2187) {・内側描画};
\node[nhd] (scrh) at (2326,2161) {スクリーンモードを変更};
\node[nsm] (scr1) at (2347,2207) {・標準スクリーンモード};
\node[nsm] (scr2) at (2347,2249) {・メニュー付きフルスクリーンモード};
\node[nsm] (scr3) at (2347,2290) {・フルスクリーンモード};
\node[nsm] (scr4) at (2347,2333) {・プレゼンテーションモード\ {\addfontfeature{LetterSpace=12}(shift + F)}};
% logo
\fill[aicol,rounded corners=.45cm] (3634,2357) rectangle (3832,2520);
\node[inner sep=0,outer sep=0,anchor=base west,font=\fontsize{29.3pt}{30pt}\selectfont\bfseries,text=aior] (ai) at (3676,2483) {Ai};
\node[inner sep=0,outer sep=0,anchor=base west,font=\fontsize{11.2pt}{14pt}\selectfont,text=black!55] (aiver) at (3206,2478) {Adobe Illustrator 2020};
\end{tikzpicture}
\end{document}
